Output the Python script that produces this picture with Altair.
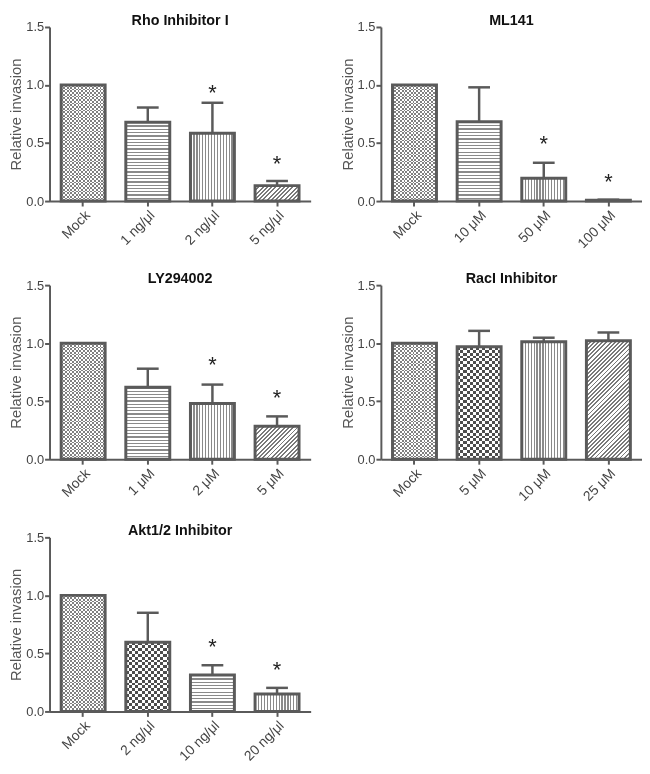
import math
import altair as alt
import pandas as pd

FONT = "Liberation Sans"
DARK = "#5a5a5a"
W = 264          # plot width of every panel
H = 176          # plot height of every panel
YMAX = 1.5
P_IN, P_OUT = 0.32, 0.18

# ---------------- data ----------------
rho_cats = ["Mock", "1 ng/μl", "2 ng/μl", "5 ng/μl"]
rho_vals = [1.00, 0.68, 0.585, 0.133]
rho_errs = [0.0, 0.126, 0.262, 0.040]
rho_stars = [None, None, 0.96, 0.34]
rho_pats = ["fine", "h", "v", "d"]

ml_cats = ["Mock", "10 μM", "50 μM", "100 μM"]
ml_vals = [1.00, 0.683, 0.197, 0.008]
ml_errs = [0.0, 0.297, 0.133, 0.004]
ml_stars = [None, None, 0.52, 0.19]
ml_pats = ["fine", "h", "v", "d"]

ly_cats = ["Mock", "1 μM", "2 μM", "5 μM"]
ly_vals = [1.00, 0.62, 0.48, 0.284]
ly_errs = [0.0, 0.16, 0.163, 0.085]
ly_stars = [None, None, 0.84, 0.55]
ly_pats = ["fine", "h", "v", "d"]

rac_cats = ["Mock", "5 μM", "10 μM", "25 μM"]
rac_vals = [1.00, 0.97, 1.013, 1.021]
rac_errs = [0.0, 0.136, 0.034, 0.071]
rac_stars = [None, None, None, None]
rac_pats = ["fine", "checker", "v", "d"]

akt_cats = ["Mock", "2 ng/μl", "10 ng/μl", "20 ng/μl"]
akt_vals = [1.00, 0.596, 0.314, 0.15]
akt_errs = [0.0, 0.254, 0.084, 0.053]
akt_stars = [None, None, 0.58, 0.384]
akt_pats = ["fine", "checker", "h", "v"]

# ---------------- pattern styles ----------------
STYLE = {
    "fine": {"cell": 1.8, "color": "#808080"},
    "checker": {"cell": 3.0, "color": "#4d4d4d"},
    "h": {"period": 3.3, "frac": 0.38, "color": "#8a8a8a"},
    "v": {"period": 3.0, "frac": 0.42, "color": "#8a8a8a"},
    "d": {"period": 3.0, "frac": 0.45, "color": "#7a7a7a"},
}

STEP = W / (4 - P_IN + 2 * P_OUT)
BW = STEP * (1 - P_IN)


def stripes(kind, period, frac, color, bg, w, h):
    if kind == "h":
        length = h
        coords = dict(x1=0, y1=0, x2=0, y2=1)
    elif kind == "v":
        length = w
        coords = dict(x1=0, y1=0, x2=1, y2=0)
    else:  # diagonal "/" at 45 degrees in pixel space
        hh = max(h, 0.5)
        k = (w + hh) / (w * w + hh * hh)
        coords = dict(x1=0, y1=0, x2=round(k * w, 5), y2=round(k * hh, 5))
        length = (w + hh) / math.sqrt(2)
    n = max(1, int(round(length / period)))
    stops = []
    for i in range(n):
        a = i / n
        b = (i + frac) / n
        c = (i + 1) / n
        stops += [
            {"offset": round(a, 5), "color": color},
            {"offset": round(b, 5), "color": color},
            {"offset": round(b, 5), "color": bg},
            {"offset": round(c, 5), "color": bg},
        ]
    return {"gradient": "linear", "stops": stops, **coords}


def panel(title, cats, vals, errs, stars, pats):
    df = pd.DataFrame({
        "cat": cats,
        "val": vals,
        "hi": [v + e for v, e in zip(vals, errs)],
        "err": errs,
    })
    sdf = pd.DataFrame({
        "cat": [c for c, s in zip(cats, stars) if s is not None],
        "star": [s for s in stars if s is not None],
    })
    xs = alt.X("cat:N",
               scale=alt.Scale(domain=cats, paddingInner=P_IN, paddingOuter=P_OUT),
               axis=alt.Axis(title=None, labelAngle=-45, labelFontSize=14,
                             labelPadding=2))

    def ys(field):
        return alt.Y(f"{field}:Q", scale=alt.Scale(domain=[0, YMAX]),
                     axis=alt.Axis(title="Relative invasion",
                                   values=[0, 0.5, 1.0, 1.5], format=".1f"))

    base = alt.Chart(df)
    layers = []
    for c, v, p in zip(cats, vals, pats):
        sub = base.transform_filter(alt.datum.cat == c)
        enc = dict(x=xs, y=ys("val"))
        hpx = v * H / YMAX
        st = STYLE[p]
        if p in ("fine", "checker"):
            s = st["cell"]
            layers.append(sub.mark_bar(
                fill=stripes("h", 2 * s, 0.5, "#000000", "#ffffff", BW, hpx)).encode(**enc))
            layers.append(sub.mark_bar(
                fill=stripes("v", 2 * s, 0.5, "#000000", "#ffffff", BW, hpx),
                blend="difference").encode(**enc))
            layers.append(sub.mark_bar(fill=st["color"], blend="lighten").encode(**enc))
        else:
            layers.append(sub.mark_bar(
                fill=stripes(p, st["period"], st["frac"], st["color"], "#ffffff", BW, hpx)
            ).encode(**enc))

    outline = base.mark_bar(fillOpacity=0, stroke=DARK, strokeWidth=3).encode(
        x=xs, y=ys("val"))
    ebase = base.transform_filter("datum.err > 0")
    rule = ebase.mark_rule(color=DARK, strokeWidth=2.5).encode(
        x=xs, y=ys("val"), y2=alt.Y2("hi:Q"))
    cap = ebase.mark_tick(color=DARK, thickness=2.5, size=22, opacity=1).encode(
        x=xs, y=ys("hi"))
    layers += [outline, rule, cap]
    if len(sdf):
        star = alt.Chart(sdf).mark_text(
            text="*", fontSize=22, font=FONT, color="#222222",
            baseline="alphabetic", dy=10).encode(x=xs, y=ys("star"))
        layers.append(star)
    return alt.layer(*layers).properties(title=title, width=W, height=H)


p1 = panel("Rho Inhibitor I", rho_cats, rho_vals, rho_errs, rho_stars, rho_pats)
p2 = panel("ML141", ml_cats, ml_vals, ml_errs, ml_stars, ml_pats)
p3 = panel("LY294002", ly_cats, ly_vals, ly_errs, ly_stars, ly_pats)
p4 = panel("RacI Inhibitor", rac_cats, rac_vals, rac_errs, rac_stars, rac_pats)
p5 = panel("Akt1/2 Inhibitor", akt_cats, akt_vals, akt_errs, akt_stars, akt_pats)

row1 = alt.hconcat(p1, p2, spacing=29)
row2 = alt.hconcat(p3, p4, spacing=29)

chart = alt.vconcat(row1, row2, p5, spacing=19).properties(
    padding={"left": 0, "top": 0, "right": 0, "bottom": 0}
).configure_view(stroke=None).configure_axis(
    domainColor=DARK, domainWidth=2, tickColor=DARK, tickWidth=2, tickSize=5,
    labelColor="#444444", labelFont=FONT, labelFontSize=13,
    titleFont=FONT, titleFontSize=15, titleFontWeight="normal", titleColor="#555555",
    titlePadding=2, labelPadding=1, grid=False
).configure_title(
    font=FONT, fontSize=14.5, fontWeight="bold", color="#111111", offset=-7
)

chart.save("out.html", embed_options={"renderer": "svg", "actions": False})
